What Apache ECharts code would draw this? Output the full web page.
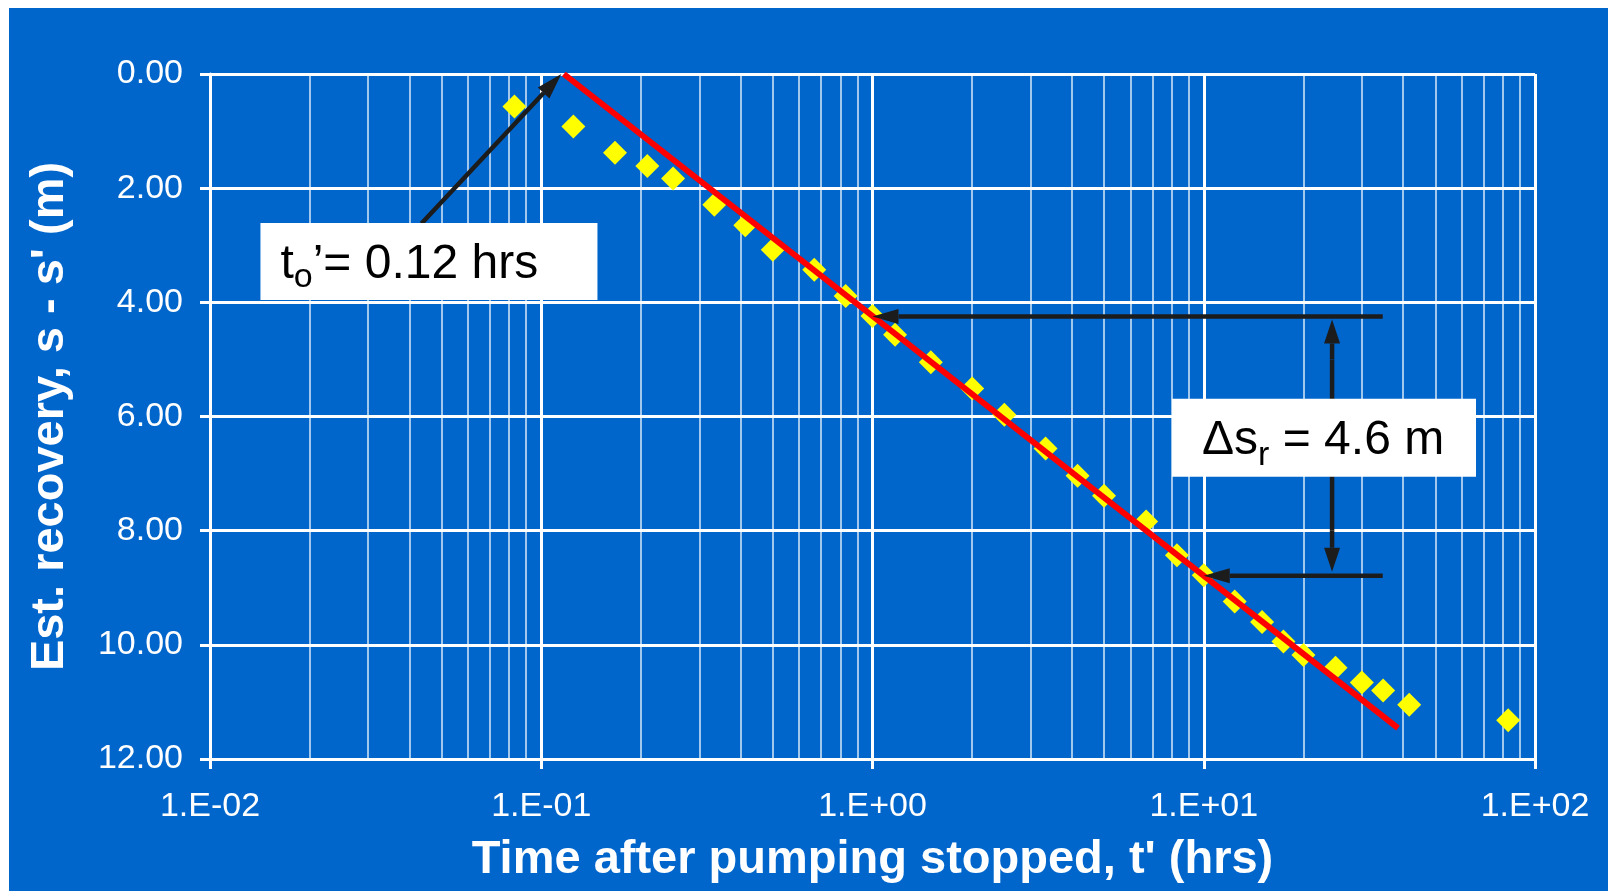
<!DOCTYPE html>
<html>
<head>
<meta charset="utf-8">
<title>Recovery test - residual drawdown</title>
<script src="https://cdn.jsdelivr.net/npm/echarts@6/dist/echarts.min.js"></script>
<style>
  html, body { margin: 0; padding: 0; background: #ffffff; }
  #chart { position: absolute; left: 9px; top: 8px; width: 1599px; height: 883px; }
</style>
</head>
<body>
<div id="chart"></div>
<script>
// time after pumping stopped t' (hrs)
var tHrs = [0.083, 0.125, 0.167, 0.209, 0.25, 0.333, 0.413, 0.5, 0.667, 0.83,
            1.0, 1.17, 1.5, 2.0, 2.5, 3.33, 4.16, 5.0, 6.7, 8.3,
            10, 12.4, 15, 17.4, 20, 25, 30, 34.8, 41.7, 83];
// estimated recovery s - s' (m)
var recovery = [0.57, 0.92, 1.38, 1.61, 1.83, 2.29, 2.65, 3.08, 3.43, 3.89,
                4.24, 4.57, 5.05, 5.51, 5.97, 6.56, 7.04, 7.39, 7.84, 8.43,
                8.78, 9.24, 9.60, 9.94, 10.18, 10.40, 10.66, 10.80, 11.05, 11.32];
// straight line fit
var fitT = [0.117, 38.6];
var fitS = [0, 11.46];
// minor vertical grid (2..9 of each decade)
var minorGrid = [0.02, 0.03, 0.04, 0.05, 0.06, 0.07, 0.08, 0.09,
                 0.2, 0.3, 0.4, 0.5, 0.6, 0.7, 0.8, 0.9,
                 2, 3, 4, 5, 6, 7, 8, 9,
                 20, 30, 40, 50, 60, 70, 80, 90];
var xTickLabels = ['1.E-02', '1.E-01', '1.E+00', '1.E+01', '1.E+02'];
var yTickLabels = ['0.00', '2.00', '4.00', '6.00', '8.00', '10.00', '12.00'];

var FONT = 'Arial, "Liberation Sans", sans-serif';
var INK = '#1c1c1c';

var myChart = echarts.init(document.getElementById('chart'));

var option = {
  backgroundColor: '#0066cc',
  animation: false,
  textStyle: { fontFamily: FONT },
  grid: { left: 201, top: 66, width: 1325, height: 685, containLabel: false },
  xAxis: {
    type: 'log',
    logBase: 10,
    min: 0.01,
    max: 100,
    name: "Time after pumping stopped, t' (hrs)",
    nameLocation: 'middle',
    nameGap: 78,
    nameTextStyle: { color: '#fff', fontSize: 47, fontWeight: 'bold', fontFamily: FONT },
    axisLine: { show: true, onZero: false, lineStyle: { color: '#fff', width: 3 } },
    axisTick: { show: true, length: 10, lineStyle: { color: '#fff', width: 3 } },
    axisLabel: {
      color: '#fff', fontSize: 34, margin: 31, fontFamily: FONT,
      formatter: function (v) {
        var e = Math.round(Math.log(v) / Math.LN10);
        return xTickLabels[e + 2];
      }
    },
    splitLine: { show: true, lineStyle: { color: '#fff', width: 3 } }
  },
  yAxis: {
    type: 'value',
    inverse: true,
    min: 0,
    max: 12,
    interval: 2,
    name: "Est. recovery, s - s' (m)",
    nameLocation: 'middle',
    nameGap: 136,
    nameRotate: 90,
    nameTextStyle: { color: '#fff', fontSize: 47, fontWeight: 'bold', fontFamily: FONT },
    axisLine: { show: true, onZero: false, lineStyle: { color: '#fff', width: 3 } },
    axisTick: { show: true, length: 10, lineStyle: { color: '#fff', width: 3 } },
    axisLabel: {
      color: '#fff', fontSize: 34, margin: 27, fontFamily: FONT,
      formatter: function (v) { return yTickLabels[Math.round(v / 2)]; }
    },
    splitLine: { show: true, lineStyle: { color: '#fff', width: 3 } }
  },
  series: [
    {
      name: 'recovery',
      type: 'scatter',
      symbol: 'diamond',
      symbolSize: 24,
      itemStyle: { color: '#ffff00', opacity: 1 },
      z: 3,
      data: tHrs.map(function (t, i) { return [t, recovery[i]]; }),
      markLine: {
        silent: true,
        z: 1,
        symbol: ['none', 'none'],
        label: { show: false },
        emphasis: { disabled: true },
        lineStyle: { color: 'rgba(255,255,255,0.85)', width: 1.5, type: 'solid' },
        data: minorGrid.map(function (v) { return { xAxis: v }; })
      }
    },
    {
      name: 'fit',
      type: 'line',
      symbol: 'none',
      z: 4,
      lineStyle: { color: '#ff0000', width: 6 },
      data: fitT.map(function (t, i) { return [t, fitS[i]]; })
    }
  ]
};

myChart.setOption(option);

// annotations, anchored in data coordinates
function px(p) { return myChart.convertToPixel({ gridIndex: 0 }, p); }

function arrow(from, tip, len, w) {
  var a = px(from), b = px(tip);
  var dx = b[0] - a[0], dy = b[1] - a[1];
  var d = Math.sqrt(dx * dx + dy * dy);
  var ux = dx / d, uy = dy / d;
  var bx = b[0] - ux * len, by = b[1] - uy * len;
  var nx = -uy * w / 2, ny = ux * w / 2;
  return [
    { type: 'line', z: 10, silent: true,
      shape: { x1: a[0], y1: a[1], x2: bx, y2: by },
      style: { stroke: INK, lineWidth: 4.5 } },
    { type: 'polygon', z: 10, silent: true,
      shape: { points: [[b[0], b[1]], [bx + nx, by + ny], [bx - nx, by - ny]] },
      style: { fill: INK } }
  ];
}

function plainLine(p1, p2) {
  var a = px(p1), b = px(p2);
  return { type: 'line', z: 10, silent: true,
    shape: { x1: a[0], y1: a[1], x2: b[0], y2: b[1] },
    style: { stroke: INK, lineWidth: 4.5 } };
}

function box(anchor, w, h, padLeft, richText, subPad) {
  var p = px(anchor);
  return {
    type: 'group', x: p[0], y: p[1], z: 11, silent: true,
    children: [
      { type: 'rect', shape: { x: 0, y: 0, width: w, height: h }, style: { fill: '#ffffff' }, z: 11 },
      { type: 'text', z: 12,
        style: {
          x: padLeft, y: 42, verticalAlign: 'middle', align: 'left',
          text: richText,
          rich: {
            m: { fontSize: 48, fontFamily: FONT, fill: '#000', lineHeight: 58 },
            s: { fontSize: 34, fontFamily: FONT, fill: '#000', lineHeight: 34, padding: [subPad, 0, 0, 0] }
          }
        } }
    ]
  };
}

var g = [];
// t0' arrow
g = g.concat(arrow([0.0435, 2.62], [0.115, 0.0], 26, 16));
// upper horizontal arrow at 1 hr
g = g.concat(arrow([34.7, 4.25], [1.0, 4.25], 26, 15));
// lower horizontal arrow at 10 hrs
g = g.concat(arrow([34.7, 8.79], [10, 8.79], 26, 15));
// vertical double arrow
g.push(plainLine([24.4, 5.0], [24.4, 8.0]));
g = g.concat(arrow([24.4, 5.0], [24.4, 4.30], 24, 16));
g = g.concat(arrow([24.4, 8.0], [24.4, 8.72], 24, 16));
// text boxes
g.push(box([0.0142, 2.61], 337, 77, 20, '{m|t}{s|o}{m|\u2019= 0.12 hrs}', 26));
g.push(box([8.02, 5.69], 304, 78, 30, '{m|\u0394s}{s|r}{m| = 4.6 m}', 30));

myChart.setOption({ graphic: g });
</script>
</body>
</html>
